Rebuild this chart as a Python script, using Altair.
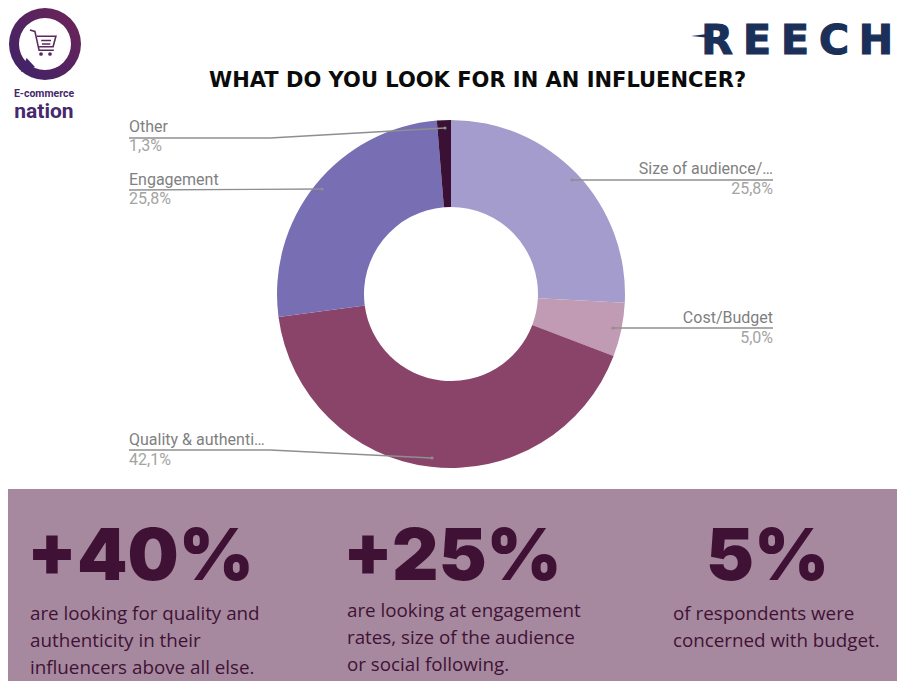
import altair as alt
import pandas as pd

categories = ["Size of audience/…", "Cost/Budget", "Quality & authenti…", "Engagement", "Other"]
values = [25.8, 5.0, 42.1, 25.8, 1.3]
value_labels = ["25,8%", "5,0%", "42,1%", "25,8%", "1,3%"]
colors = ["#a49ccd", "#c19ab3", "#8a4469", "#776eb4", "#3a1034"]

TITLE = "WHAT DO YOU LOOK FOR IN AN INFLUENCER?"
stats = ["+40%", "+25%", "5%"]
blurbs = [
    ["are looking for quality and", "authenticity in their", "influencers above all else."],
    ["are looking at engagement", "rates,  size of the audience", "or social following."],
    ["of respondents were", "concerned with budget."],
]
DARK = "#3f1235"
BAND = "#a6899f"
OFF = 8
one = pd.DataFrame({"k": [0]})


def px(v):
    return alt.value(v - OFF)


def text(s, x, y, size, color, font="Roboto", weight="normal", align="left", **extra):
    return alt.Chart(one).mark_text(
        font=font, fontSize=size, fontWeight=weight, align=align, baseline="alphabetic", color=color, **extra
    ).encode(x=px(x), y=px(y), text=alt.value(s))


def seg(x1, y1, x2, y2, color="#8f8f8f", w=1.3):
    return alt.Chart(one).mark_rule(color=color, strokeWidth=w).encode(
        x=px(x1), y=px(y1), x2=px(x2), y2=px(y2)
    )


def dot(x, y):
    return alt.Chart(one).mark_point(filled=True, size=10, color="#8f8f8f", opacity=1).encode(x=px(x), y=px(y))


def shape(path, x, y, size, color, filled=True, sw=1.5):
    kw = dict(filled=True, color=color) if filled else dict(filled=False, color=color, strokeWidth=sw)
    return alt.Chart(one).mark_point(shape=path, size=size, opacity=1, **kw).encode(x=px(x), y=px(y))


df = pd.DataFrame({"cat": categories, "val": values, "ord": range(len(values))})
donut = alt.Chart(df).mark_arc(outerRadius=174, innerRadius=87).encode(
    x=px(451), y=px(294),
    theta=alt.Theta("val:Q", stack=True, scale=alt.Scale(domain=[0, sum(values)])),
    order=alt.Order("ord:Q"),
    color=alt.Color("cat:N", scale=alt.Scale(domain=categories, range=colors), legend=None),
)

band = alt.Chart(one).mark_rect(color=BAND).encode(x=px(0), x2=px(905), y=px(489), y2=px(681))

layers = [band, donut]

# leader lines
for s in [
    (129, 138, 270, 138), (270, 138, 445, 128),
    (129, 190, 322, 189),
    (572, 180, 773, 180),
    (613, 328, 773, 328),
    (129, 450, 270, 450), (270, 450, 432, 458),
]:
    layers.append(seg(*s))
for p in [(445, 128), (322, 189), (572, 180), (613, 328), (432, 458)]:
    layers.append(dot(*p))

# slice labels
GREY = "#7f7f7f"
LIGHT = "#a3a3a3"
labels = [
    (0, 773, 174, 194, "right"),
    (1, 773, 323, 343, "right"),
    (2, 129, 445, 465, "left"),
    (3, 129, 185, 204, "left"),
    (4, 129, 132, 151, "left"),
]
for i, x, y1, y2, al in labels:
    layers.append(text(categories[i], x, y1, 16, GREY, align=al))
    layers.append(text(value_labels[i], x, y2, 16, LIGHT, align=al))

layers.append(text(TITLE, 209, 87, 21, "#0b0b0b", font="DejaVu Sans", weight="bold"))

# stats
for s, x in zip(stats, [27, 343, 706]):
    layers.append(text(s, x, 580, 72, DARK, font="Inter", weight=900))
for lines, x, ys in zip(blurbs, [30, 347, 673], [[620, 647, 674], [617, 644, 671], [620, 647]]):
    for l, y in zip(lines, ys):
        layers.append(text(l, x, y, 18.8, DARK, font="Open Sans"))

# E-commerce Nation logo
ring = alt.Chart(one).mark_arc(
    outerRadius=36, innerRadius=26, theta=0, theta2=6.2832,
    color=alt.Gradient(gradient="linear", x1=0, y1=1, x2=1, y2=0,
                       stops=[alt.GradientStop(offset=0, color="#3c2368"),
                              alt.GradientStop(offset=1, color="#6f2458")]),
).encode(x=px(45), y=px(44))
layers.append(ring)
layers.append(shape("M-0.2,-1 L1,0.3 L-1,1 Z", 28, 65, 196, "#43246a"))
layers.append(shape("M-1,-1 L-0.65,-0.9 L-0.35,0.45 L0.7,0.45 M-0.5,-0.55 L0.85,-0.55 L0.65,0.2 L-0.35,0.2 M-0.2,-0.25 L0.5,-0.25 M-0.15,0 L0.45,0",
                    44, 44, 784, "#5a2a5e", filled=False, sw=1.6))
layers.append(alt.Chart(one).mark_point(filled=True, size=14, color="#5a2a5e", opacity=1).encode(x=px(41), y=px(54)))
layers.append(alt.Chart(one).mark_point(filled=True, size=14, color="#5a2a5e", opacity=1).encode(x=px(50), y=px(54)))
layers.append(text("E-commerce", 44, 97, 10.5, "#46286e", font="Roboto", weight="bold", align="center"))
layers.append(text("nation", 44, 118, 21, "#46286e", font="Roboto", weight="bold", align="center"))

# Reech logo
layers.append(shape("M-1,0 L1,-0.25 L1,0.2 Z", 702, 36, 484, "#1a3058"))
for ch, x in zip("REECH", [717, 757, 795, 834, 876]):
    layers.append(text(ch, x, 54, 41, "#1a3058", font="DejaVu Sans", weight="bold", align="center",
                       stroke="#1a3058", strokeWidth=1.2))

chart = alt.layer(*layers).properties(
    width=889, height=673, padding=0, autosize=alt.AutoSizeParams(type="none"), background="white"
).configure_view(stroke=None)

chart.save("out.html", embed_options={"renderer": "svg", "actions": False})
